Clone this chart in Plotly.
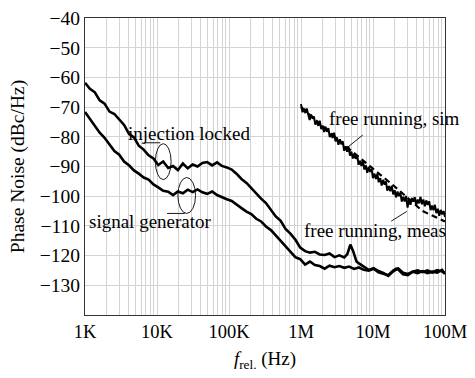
import math
import plotly.graph_objects as go

# ---------------- data ----------------
grid_freq = [1000, 1170, 1370, 1600, 1870, 2190, 2560, 2990, 3490, 4080, 4780, 5580,
             6530, 7640, 8930, 10400, 12200, 14300, 16700, 19500, 22900, 26700, 31300,
             36500, 42700, 49900, 58400, 68200, 79800, 93300, 109000, 128000, 149000,
             175000, 204000, 239000, 279000, 326000, 382000, 446000, 522000, 610000,
             713000, 834000, 975000]

il_freq = grid_freq + [1.14e6, 1.33e6, 1.56e6, 1.82e6, 2.13e6, 2.49e6, 2.92e6, 3.41e6,
                       3.99e6, 4.40e6, 4.85e6, 5.30e6, 5.90e6, 6.37e6, 7.45e6, 8.71e6,
                       1.02e7, 1.19e7, 1.39e7, 1.63e7, 1.91e7, 2.23e7, 2.61e7, 3.05e7,
                       3.56e7, 4.17e7, 4.87e7, 5.69e7, 6.66e7, 7.78e7, 9.10e7, 1.0e8]
il_db = [-61.8, -63.8, -65.0, -67.7, -68.8, -71.5, -72.3, -74.3, -76.0, -79.0, -80.2, -83.0,
         -84.3, -86.2, -87.3, -89.5, -88.3, -90.5, -89.8, -91.2, -89.0, -90.6, -89.3,
         -90.0, -88.8, -88.5, -89.6, -88.6, -89.8, -90.3, -91.0, -92.5, -94.2,
         -95.5, -97.2, -99.3, -100.8, -102.3, -104.6, -106.8, -108.3, -111.0,
         -112.6, -114.6, -117.3,
         -118.5, -119.0, -118.7, -119.6, -119.8, -119.3, -120.5, -119.9,
         -120.6, -119.5, -116.3, -118.5, -122.0, -122.6, -123.6, -124.8,
         -124.2, -125.2, -125.8, -126.8, -125.3, -124.3, -125.8, -126.2,
         -125.4, -125.0, -125.6, -125.0, -125.7, -124.9, -125.3, -126.0]

sg_freq = grid_freq + [1.14e6, 1.33e6, 1.56e6, 1.82e6, 2.13e6, 2.49e6, 2.92e6, 3.41e6,
                       3.99e6, 4.66e6, 5.45e6, 6.37e6, 7.45e6, 8.71e6, 1.02e7, 1.19e7,
                       1.39e7, 1.63e7, 1.91e7, 2.10e7, 2.23e7, 2.61e7, 3.05e7, 3.56e7,
                       4.17e7, 4.87e7, 5.69e7, 6.66e7, 7.78e7, 9.10e7, 1.0e8]
sg_db = [-71.6, -73.8, -76.2, -78.6, -80.3, -82.5, -84.8, -86.0, -88.3, -89.6, -91.3, -92.4,
         -93.7, -94.4, -96.0, -97.0, -98.2, -98.5, -99.6, -98.4, -99.0, -97.8, -98.6,
         -97.7, -98.7, -99.2, -98.4, -99.6, -100.4, -101.0, -101.6, -103.0, -104.0,
         -105.2, -106.0, -107.6, -108.5, -110.2, -111.4, -113.2, -115.0, -116.6,
         -118.4, -120.5, -121.2,
         -123.0, -122.0, -123.2, -123.5, -124.4, -123.4, -123.9, -123.5,
         -124.1, -123.7, -124.5, -124.0, -124.8, -125.1, -124.4, -125.6,
         -126.1, -126.6, -125.0, -124.4, -124.6, -126.3, -126.6, -125.4,
         -125.9, -125.2, -125.9, -125.4, -125.7, -124.8, -126.2]

meas_freq = [1.00e6, 1.05e6, 1.10e6, 1.15e6, 1.20e6, 1.26e6, 1.32e6, 1.38e6, 1.45e6, 1.51e6,
             1.58e6, 1.66e6, 1.74e6, 1.82e6, 1.91e6, 2.00e6, 2.09e6, 2.19e6, 2.29e6, 2.40e6,
             2.51e6, 2.63e6, 2.75e6, 2.88e6, 3.02e6, 3.16e6, 3.31e6, 3.47e6, 3.63e6, 3.80e6,
             3.98e6, 4.17e6, 4.37e6, 4.57e6, 4.79e6, 5.01e6, 5.25e6, 5.50e6, 5.75e6, 6.03e6,
             6.31e6, 6.61e6, 6.92e6, 7.24e6, 7.59e6, 7.94e6, 8.32e6, 8.71e6, 9.12e6, 9.55e6,
             1.00e7, 1.05e7, 1.10e7, 1.15e7, 1.20e7, 1.26e7, 1.32e7, 1.38e7, 1.45e7, 1.51e7,
             1.58e7, 1.66e7, 1.74e7, 1.82e7, 1.91e7, 2.00e7, 2.09e7, 2.19e7, 2.29e7, 2.40e7,
             2.51e7, 2.63e7, 2.75e7, 2.88e7, 3.02e7, 3.16e7, 3.31e7, 3.47e7, 3.63e7, 3.80e7,
             3.98e7, 4.17e7, 4.37e7, 4.57e7, 4.79e7, 5.01e7, 5.25e7, 5.50e7, 5.75e7, 6.03e7,
             6.31e7, 6.61e7, 6.92e7, 7.24e7, 7.59e7, 7.94e7, 8.32e7, 8.71e7, 9.12e7, 9.55e7,
             1.00e8]
meas_db = [-69.0, -71.7, -70.5, -72.0, -70.5, -72.6, -74.3, -72.5, -73.9, -73.1,
           -75.9, -74.8, -76.3, -74.6, -77.4, -76.2, -78.4, -76.6, -78.3, -77.1,
           -80.1, -78.9, -80.4, -78.6, -81.5, -80.2, -82.7, -80.8, -82.5, -81.5,
           -84.7, -83.2, -85.0, -83.3, -86.3, -85.0, -87.3, -85.7, -87.4, -86.2,
           -89.4, -88.1, -89.8, -88.0, -91.0, -89.6, -92.1, -90.2, -91.8, -90.8,
           -93.9, -92.4, -94.2, -92.4, -95.3, -93.9, -96.4, -94.5, -96.1, -95.0,
           -98.1, -96.6, -98.3, -96.5, -99.4, -98.0, -100.4, -98.4, -100.0, -98.8,
           -101.8, -100.2, -101.8, -99.9, -103.8, -100.9, -102.9, -100.6, -101.8, -100.3,
           -103.0, -101.1, -102.4, -100.2, -102.7, -101.1, -103.4, -101.4, -102.9, -101.7,
           -104.7, -103.1, -104.7, -102.9, -105.7, -104.2, -106.6, -104.6, -106.1, -105.0,
           -107.0]

sim_freq = [1.0e6, 4.25e6, 1.27e7, 2.23e7, 4.87e7, 1.0e8]
sim_db = [-70.0, -83.3, -92.8, -97.7, -105.0, -108.5]

x_tick_vals = [1e3, 1e4, 1e5, 1e6, 1e7, 1e8]
x_tick_text = ["1K", "10K", "100K", "1M", "10M", "100M"]
y_tick_vals = [-130, -120, -110, -100, -90, -80, -70, -60, -50, -40]

# ---------------- figure ----------------
FONT = "Liberation Serif, Times New Roman, serif"
fig = go.Figure()
line_w = 2.6
fig.add_trace(go.Scatter(x=il_freq, y=il_db, mode="lines",
                         line=dict(color="black", width=line_w)))
fig.add_trace(go.Scatter(x=sg_freq, y=sg_db, mode="lines",
                         line=dict(color="black", width=line_w)))
fig.add_trace(go.Scatter(x=meas_freq, y=meas_db, mode="lines",
                         line=dict(color="black", width=2.0)))
fig.add_trace(go.Scatter(x=sim_freq, y=sim_db, mode="lines",
                         line=dict(color="black", width=2.2, dash="6px,4px")))

minor_vals = [m * 10 ** d for d in range(3, 8) for m in range(2, 10)]


def add_line(f0, d0, f1, d1):
    fig.add_shape(type="line", xref="x", yref="y", x0=f0, y0=d0, x1=f1, y1=d1,
                  line=dict(color="black", width=0.9))


def add_ellipse(f0, d0, f1, d1):
    fig.add_shape(type="circle", xref="x", yref="y", x0=f0, y0=d0, x1=f1, y1=d1,
                  line=dict(color="black", width=0.9))


# pointer for "injection locked"
add_line(6530, -82.0, 11100, -82.0)
add_ellipse(9500, -82.3, 15700, -94.4)
# pointer for "signal generator"
add_line(13800, -105.8, 24300, -105.8)
add_ellipse(19500, -93.7, 34300, -105.8)
# pointer for free running sim
add_line(7.2e6, -79.4, 4.4e6, -83.6)
# pointer for free running meas
add_line(1.79e7, -108.4, 2.95e7, -105.1)

lg = math.log10
ann_font = dict(family=FONT, size=19, color="black")
for txt, f, d in [("injection locked", 2.75e4, -78.8),
                  ("signal generator", 8.0e3, -108.4),
                  ("free running, sim", 1.96e7, -73.9),
                  ("free running, meas", 1.08e7, -111.7)]:
    fig.add_annotation(x=lg(f), y=d, xref="x", yref="y", text=txt, showarrow=False,
                       font=ann_font, xanchor="center", yanchor="middle")

fig.update_layout(
    width=475, height=378,
    margin=dict(l=85, r=22, t=8, b=63),
    paper_bgcolor="white", plot_bgcolor="white",
    showlegend=False,
    font=dict(family=FONT, size=19, color="black"),
)
fig.update_xaxes(type="log", range=[3, 8], tickmode="array", tickvals=x_tick_vals,
                 ticktext=x_tick_text, ticks="", tickangle=0, ticklabeloverflow="allow",
                 showgrid=True, gridcolor="#d4d4d4", gridwidth=1,
                 minor=dict(tickmode="array", tickvals=minor_vals, showgrid=True,
                            gridcolor="#d4d4d4", gridwidth=1, ticks=""),
                 showline=True, mirror=True, linecolor="#333333", linewidth=1,
                 zeroline=False, tickfont=dict(family=FONT, size=18.5),
                 title=dict(text="<i>f</i><sub>rel.</sub> (Hz)", font=dict(family=FONT, size=19),
                            standoff=10))
fig.update_yaxes(range=[-140, -39.98], tickmode="array", tickvals=y_tick_vals,
                 ticktext=["\u2212" + str(abs(v)) for v in y_tick_vals], ticks="",
                 ticklabeloverflow="allow",
                 showgrid=True, gridcolor="#d4d4d4", gridwidth=1, showline=True, mirror=True,
                 linecolor="#333333", linewidth=1, zeroline=False,
                 tickfont=dict(family=FONT, size=19.5),
                 title=dict(text="Phase Noise (dBc/Hz)", font=dict(family=FONT, size=19.5),
                            standoff=10))

fig.write_html("out.html")
